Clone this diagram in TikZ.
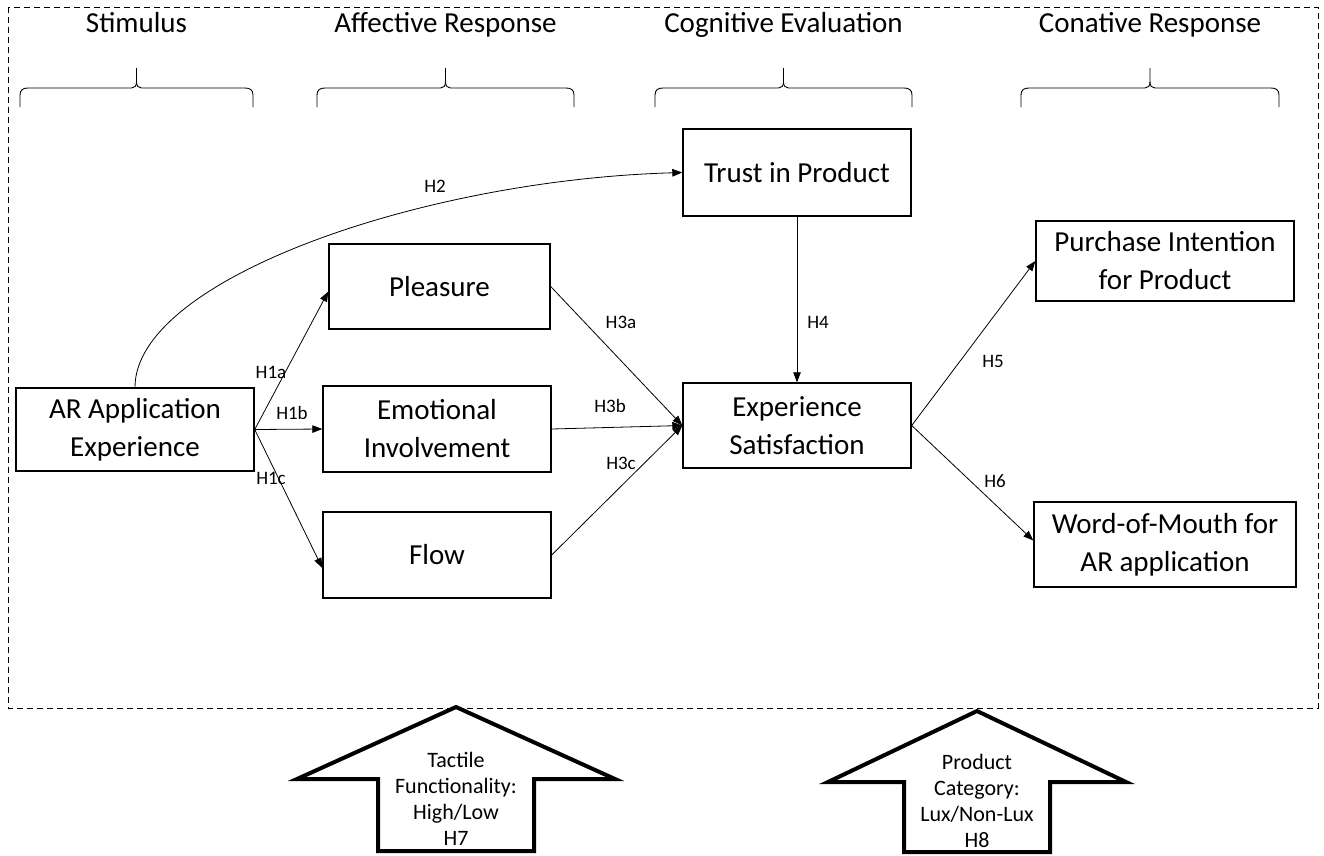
\documentclass[tikz,border=0pt]{standalone}
\usepackage{fontspec}
\setmainfont{Carlito}
\usetikzlibrary{arrows.meta}
\begin{document}
\begin{tikzpicture}[x=1pt,y=-1pt,
  box/.style={draw, line width=1.4pt, align=center, inner sep=0pt,
    font=\fontsize{29}{38}\selectfont},
  head/.style={font=\fontsize{29}{34}\selectfont, inner sep=0pt, anchor=base},
  hlab/.style={font=\fontsize{19}{22}\selectfont, inner sep=0pt},
  conn/.style={line width=0.8pt, -{Triangle[length=10pt,width=7.5pt]}},
  brk/.style={line width=0.9pt},
  blockarrow/.style={line width=4pt, fill=white, line join=miter},
  atext/.style={align=center, font=\fontsize{22}{26}\selectfont, inner sep=0pt}]
\useasboundingbox (0,0) rectangle (1324,855);
\fill[white] (0,0) rectangle (1324,855);
% dashed frame
\draw[line width=1pt, dash pattern=on 6pt off 4pt] (8,7) rectangle (1318,708);
% headers
\node[head] (hs) at (136.5,32) {Stimulus};
\node[head] (ha) at (445.5,32) {Affective Response};
\node[head] (hc) at (783.5,32) {Cognitive Evaluation};
\node[head] (hn) at (1150,32) {Conative Response};
% brackets
\foreach \L/\C/\R in {20/136.5/253, 317/445.5/574, 655/783.5/912, 1021/1150/1279} {
  \draw[brk] (\L,107) -- (\L,95) .. controls (\L,90) and (\L+3,88) .. (\L+8,88)
    -- (\C-5,88) .. controls (\C-2,88) and (\C,86) .. (\C,82) -- (\C,68);
  \draw[brk] (\C,82) .. controls (\C,86) and (\C+2,88) .. (\C+5,88)
    -- (\R-8,88) .. controls (\R-3,88) and (\R,90) .. (\R,95) -- (\R,107);
}
% boxes
\node[box, minimum width=238pt, minimum height=83pt] (ar) at (135,429.5) {AR Application\\Experience};
\node[box, minimum width=221pt, minimum height=85pt] (pl) at (439.5,286.5) {Pleasure};
\node[box, minimum width=228pt, minimum height=86pt] (em) at (437,429) {Emotional\\Involvement};
\node[box, minimum width=228pt, minimum height=86pt] (fl) at (437,555) {Flow};
\node[box, minimum width=228pt, minimum height=87pt] (tr) at (797,172.5) {Trust in Product};
\node[box, minimum width=228pt, minimum height=85pt] (es) at (797,425.5) {Experience\\Satisfaction};
\node[box, minimum width=258pt, minimum height=80pt] (pu) at (1165,261) {Purchase Intention\\for Product};
\node[box, minimum width=262pt, minimum height=85pt] (wm) at (1165,544.5) {Word-of-Mouth for\\AR application};
% connectors
\draw[conn] (ar.east) -- ([yshift=-5pt]pl.west);
\draw[conn] (ar.east) -- (em.west);
\draw[conn] (ar.east) -- ([yshift=-13pt]fl.west);
\draw[conn] (ar.north) .. controls (135,280) and (420,180) .. (tr.west);
\draw[conn] (pl.east) -- (es.west);
\draw[conn] (em.east) -- (es.west);
\draw[conn] (fl.east) -- (es.west);
\draw[conn] (tr.south) -- (es.north);
\draw[conn] (es.east) -- (pu.west);
\draw[conn] (es.east) -- ([yshift=4pt]wm.west);
% labels
\node[hlab] (l1a) at (271,372) {H1a};
\node[hlab] (l1b) at (292,413) {H1b};
\node[hlab] (l1c) at (271,478) {H1c};
\node[hlab] (l2) at (435,186) {H2};
\node[hlab] (l3a) at (621,322) {H3a};
\node[hlab] (l3b) at (610,406) {H3b};
\node[hlab] (l3c) at (621,463) {H3c};
\node[hlab] (l4) at (818,322) {H4};
\node[hlab] (l5) at (993,361) {H5};
\node[hlab] (l6) at (995,481) {H6};
% block arrows
\draw[blockarrow] (456,707) -- (615,779) -- (534,779) -- (534,851) -- (378,851) -- (378,779) -- (297,779) -- cycle;
\node[atext] (t7) at (456,799) {Tactile\\Functionality:\\High/Low\\H7};
\draw[blockarrow] (977,711) -- (1126,782) -- (1050,782) -- (1050,852) -- (904,852) -- (904,782) -- (828,782) -- cycle;
\node[atext] (t8) at (977,801) {Product\\Category:\\Lux/Non-Lux\\H8};
\end{tikzpicture}
\end{document}
